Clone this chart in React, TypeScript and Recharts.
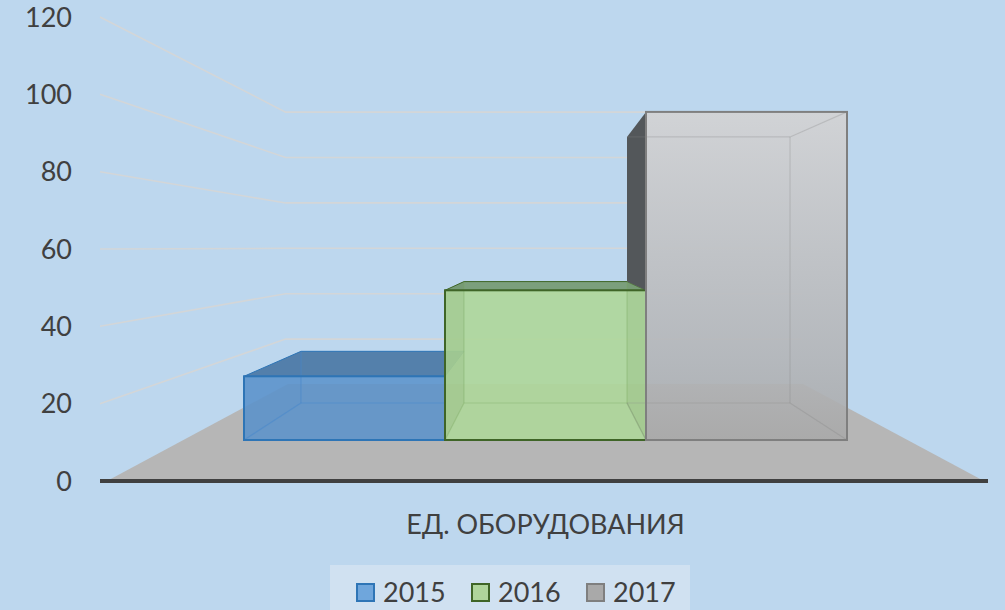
import React from "react";
import { ComposedChart, Bar, XAxis, YAxis, ReferenceLine, ReferenceArea, Legend } from "recharts";

const categories = ["ЕД. ОБОРУДОВАНИЯ"];
const years = ["2015", "2016", "2017"];
const values2015 = [20];
const values2016 = [47];
const values2017 = [103];
const yTicks = [0, 20, 40, 60, 80, 100, 120];

const TEXT = "#404040";
const FONT = "Lato, 'Open Sans', sans-serif";
const GRID = "#d3d6d8";

const palettes = [
  { front: "rgba(90,145,203,0.86)", stroke: "#2e75b6", top: "#5480ab", sideOut: "#5480ab", overlay: "rgba(60,120,190,0.02)", line: "rgba(70,135,205,0.5)", swatch: "#6fa6dc" },
  { front: "rgba(175,215,155,0.92)", stroke: "#3f6527", top: "rgba(102,140,85,0.75)", sideOut: "#86a775", overlay: "rgba(80,120,50,0.1)", line: "rgba(120,165,95,0.35)", swatch: "#afd59b" },
  { front: "url(#greyFront)", stroke: "#7f7f7f", top: "rgba(255,255,255,0.0)", sideOut: "#53575a", overlay: "rgba(255,255,255,0.0)", line: "rgba(130,130,130,0.28)", swatch: "#a9a9a9" },
];
const seriesValues = [values2015, values2016, values2017];

const rows = categories.map((category, i) => ({
  category,
  [years[0]]: values2015[i],
  [years[1]]: values2016[i],
  [years[2]]: values2017[i],
}));

const pt = (p: number[][]) => p.map((q) => q.join(",")).join(" ");

// perspective of the bar box: back face relative to the front face
const CX = 545.5;
const RATIO = 0.811;
const DEPTH = 37;

const makeBar = (idx: number) => (props: any) => {
  const { x, y, width: w, height: h } = props;
  const p = palettes[idx];
  const base = y + h;
  const own = seriesValues[idx][0];
  const prev = idx > 0 ? seriesValues[idx - 1][0] : 0;
  const bx = (px: number) => CX + (px - CX) * RATIO;
  const by = (py: number) => base - DEPTH - (base - py) * RATIO;
  const x0 = x, x1 = x + w;
  const b0 = bx(x0), b1 = bx(x1);
  const bTop = by(y), bBase = by(base);
  const prevTop = base - (base - y) * (prev / own);
  const outLeft = b0 < x0;
  const outRight = b1 > x1;
  const outTop = bTop < y;
  return (
    <g>
      <defs>
        <linearGradient id="greyFront" x1="0" y1="0" x2="0" y2="1">
          <stop offset="0%" stopColor="#d1d3d6" />
          <stop offset="75%" stopColor="#b4b6b9" stopOpacity={0.93} />
          <stop offset="100%" stopColor="#a8a8a8" stopOpacity={0.85} />
        </linearGradient>
      </defs>
      {outTop && <polygon points={pt([[x0, y], [x1, y], [b1, bTop], [b0, bTop]])} fill={p.top} stroke={p.stroke} strokeWidth={1} />}
      {outLeft && (
        <polygon points={pt([[x0, y], [x0, prevTop], [b0, by(prevTop)], [b0, bTop]])} fill={p.sideOut} />
      )}
      <rect x={x0} y={y} width={w} height={h} fill={p.front} />
      {!outLeft && <polygon points={pt([[x0, y], [x0, base], [b0, bBase], [b0, bTop]])} fill={p.overlay} />}
      {!outRight && <polygon points={pt([[x1, y], [x1, base], [b1, bBase], [b1, bTop]])} fill={p.overlay} />}
      <g stroke={p.line} strokeWidth={1.2} fill="none">
        <line x1={b0} y1={bBase} x2={outRight ? x1 : b1} y2={bBase} />
        <line x1={x0} y1={base} x2={b0} y2={bBase} />
        {!outRight && <line x1={x1} y1={base} x2={b1} y2={bBase} />}
        {!outRight && <line x1={x1} y1={y} x2={b1} y2={bTop} />}
        {!outTop && <line x1={b0} y1={bTop} x2={b1} y2={bTop} />}
        {!outLeft && <line x1={b0} y1={bTop} x2={b0} y2={bBase} />}
        {!outRight && <line x1={b1} y1={bTop} x2={b1} y2={bBase} />}
      </g>
      <rect x={x0} y={y} width={w} height={h} fill="none" stroke={p.stroke} strokeWidth={2} />
    </g>
  );
};

const BACK = 0.582;
const FLOOR_TOP_VALUE = 25.1;

const GridPath = (props: any) => {
  const { x1, x2, y1 } = props;
  const cx = (x1 + x2) / 2;
  const floorBack = 384.5;
  const plotBottom = 481;
  const kneeY = floorBack - (plotBottom - y1) * 0.587;
  const left = cx + (x1 - cx) * BACK;
  const right = cx + (x2 - cx) * BACK;
  return <polyline points={pt([[x1, y1], [left, kneeY], [right, kneeY]])} fill="none" stroke={GRID} strokeWidth={1.6} />;
};

const Floor = (props: any) => {
  const { x, y, width, height } = props;
  const bottom = y + height;
  const inset = width * (1 - BACK) * 0.5;
  return (
    <polygon
      points={pt([[x + 4, bottom], [x + inset, y], [x + width - inset, y], [x + width - 4, bottom]])}
      fill="#b6b6b6"
    />
  );
};

const LegendBox = () => (
  <div style={{ background: "#d0e1f1", height: 45, width: 360, position: "relative", fontFamily: FONT, fontSize: 27, color: TEXT }}>
    {years.map((yr, i) => (
      <React.Fragment key={yr}>
        <div
          style={{
            position: "absolute",
            left: 26 + i * 115,
            top: 18,
            width: 15,
            height: 15,
            background: palettes[i].swatch,
            border: `2px solid ${palettes[i].stroke}`,
          }}
        />
        <div style={{ position: "absolute", left: 53 + i * 115, top: 11, lineHeight: "32px" }}>{yr}</div>
      </React.Fragment>
    ))}
  </div>
);

export default function App() {
  return (
    <div style={{ position: "absolute", left: 0, top: 0, width: 1005, height: 610, background: "#bdd7ee", overflow: "hidden" }}>
      <ComposedChart
        width={1005}
        height={610}
        data={rows}
        margin={{ top: 17, right: 17, bottom: 0, left: 0 }}
        barSize={201}
        barGap={0}
      >
        <XAxis
          dataKey="category"
          padding={{ left: 3, right: 0 }}
          axisLine={{ stroke: TEXT, strokeWidth: 4 }}
          tickLine={false}
          tickMargin={28}
          height={84}
          tick={{ fill: TEXT, fontFamily: FONT, fontSize: 27 }}
        />
        <YAxis
          yAxisId="tick"
          width={100}
          domain={[0, 120]}
          allowDataOverflow
          ticks={yTicks}
          interval={0}
          axisLine={false}
          tickLine={false}
          tickSize={0}
          tickMargin={28}
          tick={{ fill: TEXT, fontFamily: FONT, fontSize: 27 }}
        />
        <YAxis yAxisId="front" hide width={0} domain={[-12.87, 132.8]} />
        <ReferenceArea yAxisId="tick" y1={0} y2={FLOOR_TOP_VALUE} shape={Floor} ifOverflow="visible" zIndex={0} />
        {yTicks.filter((t) => t > 0).map((t) => (
          <ReferenceLine key={t} yAxisId="tick" y={t} shape={GridPath} ifOverflow="visible" zIndex={0} />
        ))}
        {years.map((yr, i) => (
          <Bar
            key={yr}
            yAxisId="front"
            dataKey={yr}
            name={yr}
            fill={palettes[i].swatch}
            stroke={palettes[i].stroke}
            shape={makeBar(i)}
            isAnimationActive={false}
          />
        ))}
        <Legend
          content={<LegendBox />}
          verticalAlign="bottom"
          height={45}
          wrapperStyle={{ left: 330, width: 360, bottom: 0 }}
        />
      </ComposedChart>
    </div>
  );
}
